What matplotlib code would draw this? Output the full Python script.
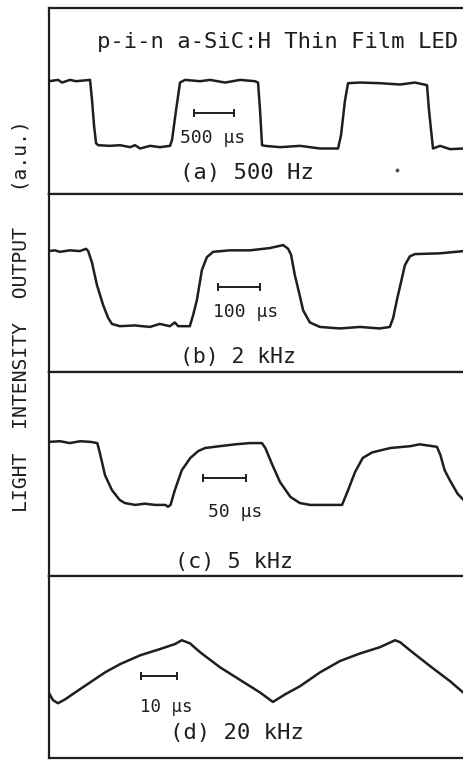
import matplotlib
matplotlib.use("Agg")
import matplotlib.pyplot as plt

# ---------------- data (time in microseconds, intensity in a.u.) ----------------
t_a = [0, 113, 163, 263, 338, 513, 538, 563, 588, 613, 763, 888, 1013, 1075, 1138, 1263,
       1388, 1513, 1538, 1588, 1638, 1700, 1888, 2013, 2200, 2388, 2575, 2613, 2638, 2663,
       2700, 2888, 3138, 3388, 3613, 3650, 3700, 3738, 3888, 4138, 4388, 4575, 4725, 4750,
       4800, 4888, 5013, 5188]
v_a = [1.00, 1.02, 0.98, 1.02, 1.00, 1.02, 0.71, 0.33, 0.06, 0.03, 0.02, 0.03, 0.00, 0.03,
       -0.02, 0.02, 0.00, 0.02, 0.11, 0.56, 0.98, 1.02, 1.00, 1.02, 0.98, 1.02, 1.00, 0.98,
       0.56, 0.03, 0.02, 0.00, 0.02, -0.02, -0.02, 0.18, 0.71, 0.97, 0.98, 0.97, 0.95, 0.98,
       0.94, 0.56, -0.02, 0.02, -0.03, -0.02]

t_b = [0, 14, 26, 50, 74, 89, 94, 103, 115, 130, 142, 151, 170, 206, 242, 266, 290, 302,
       310, 338, 346, 355, 367, 379, 394, 434, 482, 530, 562, 574, 581, 590, 600, 610, 626,
       650, 698, 746, 794, 818, 826, 835, 845, 854, 866, 878, 938, 996]
v_b = [1.00, 1.01, 0.99, 1.01, 1.00, 1.03, 1.00, 0.85, 0.55, 0.28, 0.11, 0.03, 0.00, 0.01,
       -0.01, 0.03, 0.00, 0.05, 0.00, 0.00, 0.15, 0.35, 0.75, 0.92, 0.99, 1.01, 1.01, 1.04,
       1.08, 1.03, 0.95, 0.68, 0.45, 0.21, 0.05, -0.01, -0.03, -0.01, -0.03, -0.01, 0.11,
       0.35, 0.59, 0.81, 0.93, 0.96, 0.97, 1.00]

t_c = [0, 13, 24, 36, 48, 56, 59, 65, 73, 82, 88, 100, 111, 123, 135, 138, 141, 146, 154,
       164, 173, 181, 198, 216, 233, 247, 251, 259, 268, 280, 291, 303, 320, 340, 347, 355,
       364, 375, 396, 419, 430, 450, 454, 459, 465, 474, 481]
v_c = [1.02, 1.03, 1.00, 1.03, 1.02, 1.00, 0.84, 0.48, 0.24, 0.08, 0.03, 0.00, 0.02, 0.00,
       0.00, -0.03, 0.00, 0.24, 0.56, 0.76, 0.87, 0.92, 0.95, 0.98, 1.00, 1.00, 0.92, 0.65,
       0.37, 0.13, 0.03, 0.00, 0.00, 0.00, 0.24, 0.53, 0.76, 0.85, 0.92, 0.95, 0.98, 0.94,
       0.81, 0.56, 0.40, 0.18, 0.08]

t_d = [0, 1.1, 2.5, 4.5, 7.3, 11.5, 15.7, 19.9, 25.5, 31.1, 35.3, 37.2, 39.5, 42.3, 47.9,
       53.5, 59.1, 62.7, 66.1, 70.3, 75.9, 81.5, 87.1, 92.7, 96.9, 98.3, 101.1, 106.7,
       112.3, 116.2]
v_d = [0.16, 0.05, 0.00, 0.06, 0.17, 0.33, 0.49, 0.62, 0.76, 0.86, 0.94, 1.00, 0.95, 0.81,
       0.57, 0.37, 0.17, 0.02, 0.14, 0.27, 0.49, 0.67, 0.79, 0.89, 1.00, 0.97, 0.84, 0.59,
       0.35, 0.16]

panel_labels = ["(a) 500 Hz", "(b) 2 kHz", "(c) 5 kHz", "(d) 20 kHz"]
bar_lengths_us = [500, 100, 50, 10]
bar_labels = ["500 μs", "100 μs", "50 μs", "10 μs"]
title = "p-i-n a-SiC:H Thin Film LED"
ylabel = "LIGHT  INTENSITY  OUTPUT   (a.u.)"

# ---------------- layout ----------------
W, H = 464, 760
fig = plt.figure(figsize=(W / 100, H / 100), dpi=100)
FONT = "DejaVu Sans Mono"
INK = "#1e1e1e"

def fx(x):
    return x / W

def fy(y):
    return 1 - y / H

# (top px, bottom px, xmax, ymin, ymax, bar start time, bar level)
panels = [
    (8, 194, 5262.5, -0.71, 2.11, 1812.5, 0.52),
    (194, 372, 1010.4, -0.61, 1.76, 405.6, 0.52),
    (372, 576, 488.4, -1.15, 2.15, 178.6, 0.44),
    (576, 758, 117.9, -0.87, 2.02, 25.8, 0.44),
]
traces = [(t_a, v_a), (t_b, v_b), (t_c, v_c), (t_d, v_d)]

left, right = 49, 470
for i, ((top, bot, xmax, ymin, ymax, b0, bl), (t, v)) in enumerate(zip(panels, traces)):
    ax = fig.add_axes([fx(left), fy(bot), (right - left) / W, (bot - top) / H])
    ax.plot(t, v, color=INK, lw=1.8, solid_joinstyle="round")
    ax.set_xlim(0, xmax)
    ax.set_ylim(ymin, ymax)
    ax.set_xticks([])
    ax.set_yticks([])
    for s in ax.spines.values():
        s.set_linewidth(1.6)
        s.set_color(INK)
    # scale bar
    b1 = b0 + bar_lengths_us[i]
    ax.plot([b0, b1], [bl, bl], color=INK, lw=1.4)
    ax.plot([b0, b1], [bl, bl], ls="none", marker="|", ms=6, mew=1.4, color=INK)
    if i == 0:
        ax.plot([4350], [-0.35], ls="none", marker="o", ms=1.8, color="#555555")

# ---------------- texts ----------------
fig.text(fx(97), fy(42), title, family=FONT, fontsize=16.0, va="center", ha="left", color=INK)

bar_text_pos = [(180, 138, 13), (213, 312, 13), (208, 512, 13), (140, 707, 12.5)]
for (x, y, s), lab in zip(bar_text_pos, bar_labels):
    fig.text(fx(x), fy(y), lab, family=FONT, fontsize=s, va="center", ha="left", color=INK)

panel_text_pos = [(180, 173, 16), (180, 357, 15.4), (175, 562, 15.7), (170, 733, 16)]
for (x, y, s), lab in zip(panel_text_pos, panel_labels):
    fig.text(fx(x), fy(y), lab, family=FONT, fontsize=s, va="center", ha="left", color=INK)

fig.text(fx(21), fy(316), ylabel, family=FONT, fontsize=14.2, rotation=90,
         va="center", ha="center", color=INK)

fig.savefig("out.png", dpi=100)
